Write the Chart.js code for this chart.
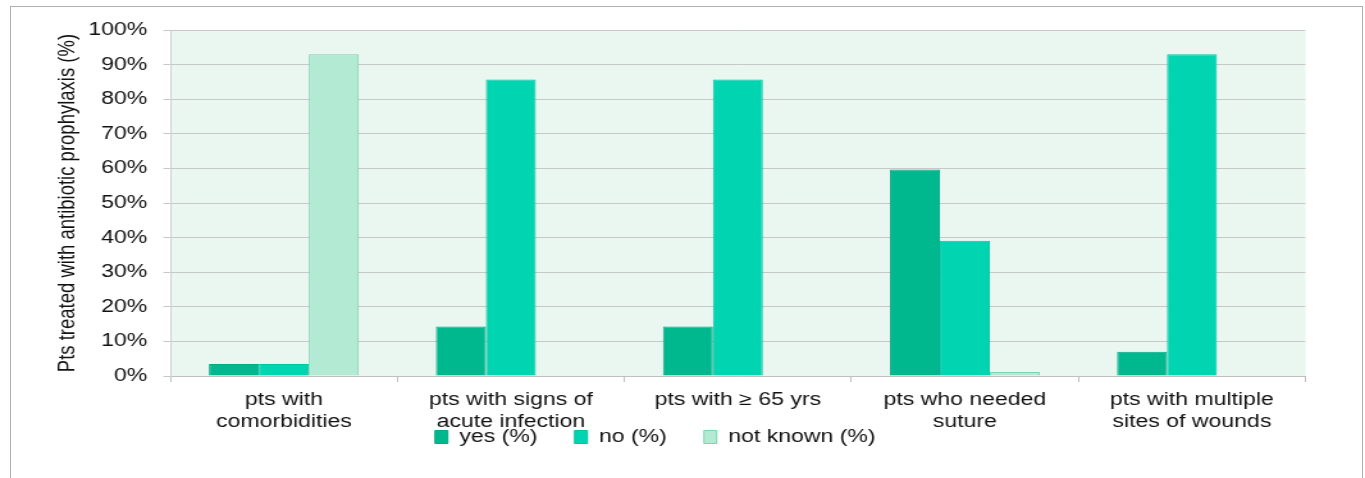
<!DOCTYPE html>
<html>
<head>
<meta charset="utf-8">
<script src="https://cdn.jsdelivr.net/npm/chart.js@4"></script>
<style>
  html, body { margin: 0; padding: 0; background: #fff; }
  #wrap { position: relative; width: 1365px; height: 478px; overflow: hidden; }
  #frame { position: absolute; left: 10px; top: 6px; width: 1351px; height: 480px; border: 1px solid #b0b0b0; }
  #myChart { position: absolute; left: 0; top: 0; }
</style>
</head>
<body>
<div id="wrap">
  <div id="frame"></div>
  <!-- the source picture is stretched sideways, so the canvas is drawn narrow and widened -->
  <canvas id="myChart" width="1066" height="478" style="width:1365px;height:478px"></canvas>
</div>
<script>
const categories = [
  ['pts with', 'comorbidities'],
  ['pts with signs of', 'acute infection'],
  ['pts with \u2265 65 yrs'],
  ['pts who needed', 'suture'],
  ['pts with multiple', 'sites of wounds']
];
const yesPct = [3.5, 14.3, 14.3, 59.7, 7.0];
const noPct = [3.5, 85.7, 85.7, 39.1, 93.0];
const notKnownPct = [93.0, 0, 0, 1.2, 0];
const yTicks = [0, 10, 20, 30, 40, 50, 60, 70, 80, 90, 100];

const plotBg = {
  id: 'plotBg',
  beforeDraw(chart) {
    const a = chart.chartArea;
    const c = chart.ctx;
    c.save();
    c.fillStyle = '#eaf6f0';
    c.fillRect(a.left, a.top, a.right - a.left, a.bottom - a.top);
    c.restore();
  }
};

// legend sits partly over the category labels in the original
const legendPos = {
  id: 'legendPos',
  afterLayout(chart) {
    const lg = chart.legend;
    if (!lg) return;
    lg.top = 399;
    lg.bottom = 478;
    lg.height = lg.bottom - lg.top;
    lg.left -= 19;
    lg.right -= 19;
  }
};

const datasets = [];
datasets.push({
  label: 'yes (%)',
  data: yesPct,
  backgroundColor: '#00b88e',
  borderColor: '#00aa84',
  borderWidth: 1,
});
datasets.push({
  label: 'no (%)',
  data: noPct,
  backgroundColor: '#00d4b0',
  borderColor: '#00c4a4',
  borderWidth: 1,
});
datasets.push({
  label: 'not known (%)',
  data: notKnownPct,
  backgroundColor: '#b3ead3',
  borderColor: '#7fd2b2',
  borderWidth: 1,
});

const font = { family: "'Liberation Sans', Arial, sans-serif", size: 18 };

const config = {
  type: 'bar',
  data: { labels: categories, datasets },
  options: {
    responsive: false,
    animation: false,
    devicePixelRatio: 1,
    layout: { padding: { left: 42, right: 46.5, top: 30, bottom: 8 } },
    datasets: { bar: { categoryPercentage: 0.66, barPercentage: 1 } },
    scales: {
      x: {
        grid: { display: true, drawOnChartArea: false, tickLength: 6, color: '#c0c0c0' },
        border: { color: '#c0c0c0' },
        ticks: { font: { ...font, lineHeight: 1.22 }, color: '#111', padding: 7, maxRotation: 0, autoSkip: false }
      },
      y: {
        min: 0,
        max: 100,
        afterBuildTicks(s) { s.ticks = yTicks.map(v => ({ value: v })); },
        grid: { color: '#c8c8c8', tickLength: 5.5 },
        border: { color: '#d0d0d0' },
        ticks: { font, color: '#111', padding: 12.5, callback: v => v + '%' },
        title: {
          display: true,
          text: 'Pts treated with antibiotic prophylaxis (%)',
          font: { family: "'Liberation Sans', Arial, sans-serif", size: 18.5 },
          color: '#111',
          padding: 0
        },
        afterFit(s) { s.width = 91; }
      }
    },
    plugins: {
      legend: {
        position: 'bottom',
        maxHeight: 30,
        labels: { font, color: '#111', boxWidth: 10, boxHeight: 13, padding: 29 }
      },
      tooltip: { enabled: false }
    }
  },
  plugins: [plotBg, legendPos]
};

const ctx = document.getElementById('myChart').getContext('2d');
const myChart = new Chart(ctx, config);
</script>
</body>
</html>
